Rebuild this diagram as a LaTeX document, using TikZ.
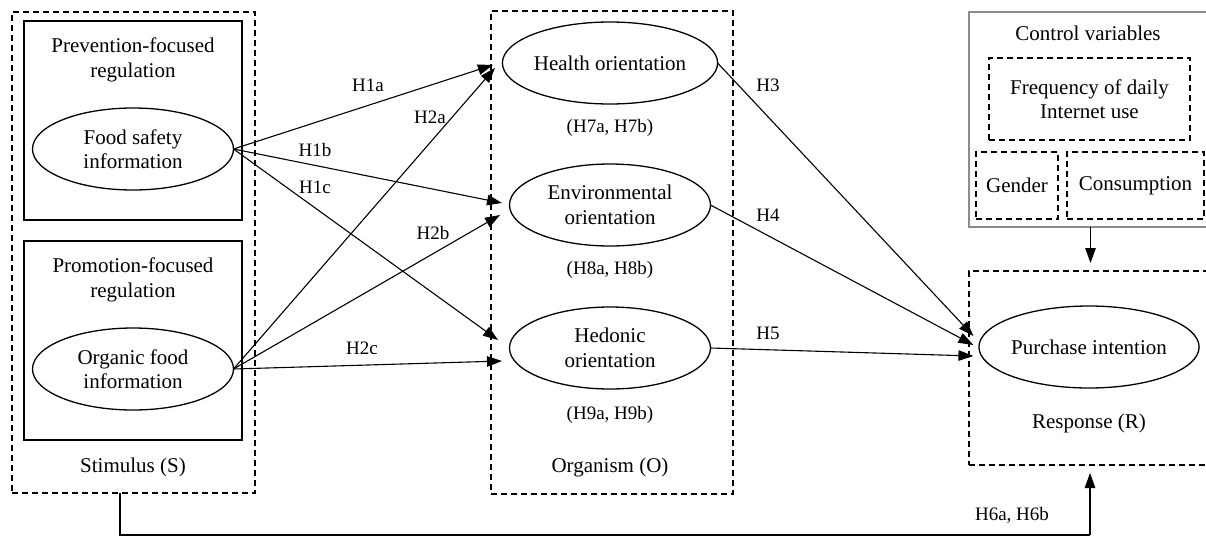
\documentclass[tikz,border=0pt]{standalone}
\usepackage{fontspec}
\setmainfont{Liberation Serif}
\usetikzlibrary{shapes.geometric,arrows.meta}
\begin{document}
\begin{tikzpicture}[x=1pt,y=-1pt,
  every node/.style={inner sep=0pt,outer sep=0pt},
  main/.style={font=\fontsize{21}{24.5}\selectfont,align=center},
  lab/.style={font=\fontsize{19}{22}\selectfont,align=center},
  dbox/.style={draw,line width=1.2pt,dash pattern=on 6pt off 4pt,rectangle},
  sbox/.style={draw,line width=1.3pt,rectangle},
  gbox/.style={draw=black!45,line width=1.3pt,rectangle},
  ell/.style={draw,line width=1.3pt,ellipse,minimum width=201pt,minimum height=82pt,main},
  arr/.style={line width=1.1pt,-{Triangle[length=15pt,width=10.5pt]}},
  ln/.style={line width=1.3pt}
]
\useasboundingbox (0,0) rectangle (1206,538);
% Stimulus
\node[dbox,minimum width=243pt,minimum height=481pt] (stim) at (133.5,252.5) {};
\node[sbox,minimum width=218pt,minimum height=199pt] (prev) at (133,120.5) {};
\node[sbox,minimum width=218pt,minimum height=199pt] (prom) at (133,340.5) {};
\node[main] (prevt) at (133,60) {Prevention-focused\\regulation};
\node[main] (promt) at (133,280) {Promotion-focused\\regulation};
\node[ell] (fs) at (133,149) {Food safety\\information};
\node[ell] (of) at (133,369) {Organic food\\information};
\node[main] (stimt) at (133,467) {Stimulus (S)};
% Organism
\node[dbox,minimum width=242pt,minimum height=483pt] (org) at (612,252.5) {};
\node[ell] (ho) at (610,63) {Health orientation};
\node[ell] (eo) at (610,205) {Environmental\\orientation};
\node[ell] (hd) at (610,348) {Hedonic\\orientation};
\node[lab] (h7) at (610,128) {(H7a, H7b)};
\node[lab] (h8) at (610,270) {(H8a, H8b)};
\node[lab] (h9) at (610,415) {(H9a, H9b)};
\node[main] (orgt) at (610,467) {Organism (O)};
% Control variables
\node[gbox,minimum width=243pt,minimum height=215pt] (cv) at (1090.5,119.5) {};
\node[main] (cvt) at (1088,33) {Control variables};
\node[dbox,minimum width=201pt,minimum height=82pt,main] (freq) at (1089.5,99) {Frequency of daily\\Internet use};
\node[dbox,minimum width=82pt,minimum height=67pt,main] (gen) at (1017,185.5) {Gender};
\node[dbox,minimum width=137pt,minimum height=67pt,main] (cons) at (1135.5,185.5) {Consumption};
% Response
\node[dbox,minimum width=243pt,minimum height=194pt] (resp) at (1090.5,368) {};
\node[ell] (pi) at (1089,347) {Purchase intention};
\node[main] (respt) at (1089,423) {Response (R)};
% arrows S -> O
\draw[arr] (fs.east) -- ([shift={(-9.5,2)}]ho.west);
\draw[arr] (fs.east) -- ([shift={(-7.5,-2)}]eo.west);
\draw[arr] (fs.east) -- ([shift={(-11.5,-8)}]hd.west);
\draw[arr] (of.east) -- ([shift={(-7.5,5)}]ho.west);
\draw[arr] (of.east) -- ([shift={(-9.5,10)}]eo.west);
\draw[arr] (of.east) -- ([shift={(-7.5,13)}]hd.west);
% arrows O -> R
\draw[arr] (ho.east) -- ([shift={(-5.5,-11)}]pi.west);
\draw[arr] (eo.east) -- ([shift={(-5.5,-2)}]pi.west);
\draw[arr] (hd.east) -- ([shift={(-5.5,9)}]pi.west);
% control arrow
\draw[arr] (cv.south) -- ([shift={(0,-8)}]resp.north);
% bottom connector
\coordinate (b1) at ([xshift=-13.5pt]stim.south);
\coordinate (b2) at (b1 |- 0,535);
\coordinate (b3) at (1090,535);
\draw[ln] (b1) -- (b2) -- (b3);
\draw[arr] (b3) -- ([shift={(0,8)}]resp.south -| b3);
% labels
\node[lab] (l1a) at (368,85) {H1a};
\node[lab] (l1b) at (315,150) {H1b};
\node[lab] (l1c) at (315,187) {H1c};
\node[lab] (l2a) at (430,117) {H2a};
\node[lab] (l2b) at (433,233) {H2b};
\node[lab] (l2c) at (362,348) {H2c};
\node[lab] (l3) at (768,85) {H3};
\node[lab] (l4) at (768,215) {H4};
\node[lab] (l5) at (768,333) {H5};
\node[lab] (l6) at (1012,515) {H6a, H6b};
\end{tikzpicture}
\end{document}
